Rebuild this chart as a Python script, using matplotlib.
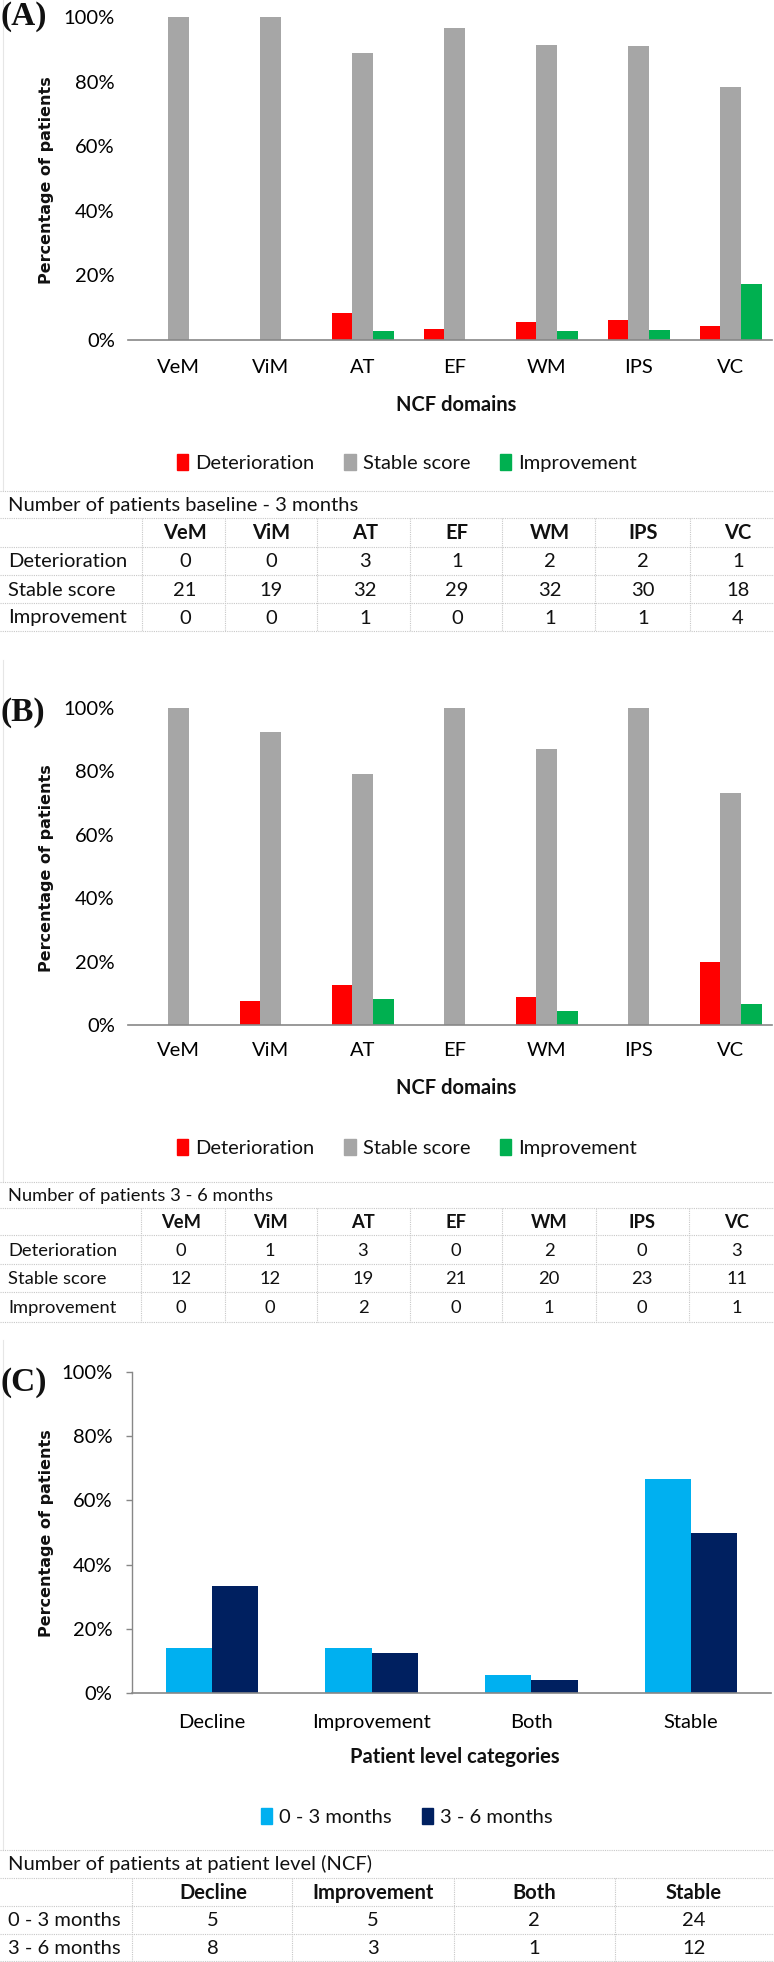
import matplotlib
matplotlib.use("Agg")
import matplotlib.pyplot as plt
from matplotlib.lines import Line2D
from matplotlib.patches import Patch
from matplotlib.ticker import PercentFormatter, FixedLocator

# ---------------- data ----------------
domains = ["VeM", "ViM", "AT", "EF", "WM", "IPS", "VC"]
series_ab = ["Deterioration", "Stable score", "Improvement"]

# Panel A: percentages baseline - 3 months
a_deterioration = [0.0, 0.0, 8.3, 3.3, 5.7, 6.1, 4.3]
a_stable = [100.0, 100.0, 88.9, 96.7, 91.4, 90.9, 78.3]
a_improvement = [0.0, 0.0, 2.8, 0.0, 2.9, 3.0, 17.4]
a_table_det = [0, 0, 3, 1, 2, 2, 1]
a_table_stable = [21, 19, 32, 29, 32, 30, 18]
a_table_impr = [0, 0, 1, 0, 1, 1, 4]

# Panel B: percentages 3 - 6 months
b_deterioration = [0.0, 7.7, 12.5, 0.0, 8.7, 0.0, 20.0]
b_stable = [100.0, 92.3, 79.2, 100.0, 87.0, 100.0, 73.3]
b_improvement = [0.0, 0.0, 8.3, 0.0, 4.3, 0.0, 6.7]
b_table_det = [0, 1, 3, 0, 2, 0, 3]
b_table_stable = [12, 12, 19, 21, 20, 23, 11]
b_table_impr = [0, 0, 2, 0, 1, 0, 1]

# Panel C: patient level
categories_c = ["Decline", "Improvement", "Both", "Stable"]
periods_c = ["0 - 3 months", "3 - 6 months"]
c_0_3 = [13.9, 13.9, 5.6, 66.7]
c_3_6 = [33.3, 12.5, 4.2, 50.0]
c_table_0_3 = [5, 5, 2, 24]
c_table_3_6 = [8, 3, 1, 12]

yticks = [0, 20, 40, 60, 80, 100]

# ---------------- style ----------------
RED, GRAY, GREEN = "#FF0000", "#A6A6A6", "#00B050"
LBLUE, DBLUE = "#00B0F0", "#002060"
AXC = "#878787"
GRIDC = "#C8C8C8"

plt.rcParams["font.family"] = ["Lato", "DejaVu Sans"]
plt.rcParams["text.color"] = "#111111"
FS = 14.5

W, H = 774, 1962
fig = plt.figure(figsize=(W / 100, H / 100), dpi=100)
fig.patch.set_facecolor("white")


def fx(x):
    return x / W


def fy(y):
    return 1 - y / H


def add_ax(left, right, top, bottom):
    return fig.add_axes([fx(left), fy(bottom), (right - left) / W, (bottom - top) / H])


def txt(x, y, s, size=FS, ha="center", va="center", **kw):
    fig.text(fx(x), fy(y), s, fontsize=size, ha=ha, va=va, **kw)


def hline(x0, x1, y, color=GRIDC, ls=(0, (1, 1)), lw=0.8):
    fig.add_artist(Line2D([fx(x0), fx(x1)], [fy(y), fy(y)], color=color, lw=lw, ls=ls))


def vline(x, y0, y1, color=GRIDC, ls=(0, (1, 1)), lw=0.8):
    fig.add_artist(Line2D([fx(x), fx(x)], [fy(y0), fy(y1)], color=color, lw=lw, ls=ls))


def style_axes(ax, show_left=False, xpad=15):
    ax.set_ylim(0, 100)
    ax.yaxis.set_major_locator(FixedLocator(yticks))
    ax.yaxis.set_major_formatter(PercentFormatter(decimals=0))
    for s in ["top", "right"]:
        ax.spines[s].set_visible(False)
    ax.spines["bottom"].set_color(AXC)
    ax.spines["bottom"].set_linewidth(1.2)
    if show_left:
        ax.spines["left"].set_color(AXC)
        ax.spines["left"].set_linewidth(1.0)
        ax.tick_params(axis="y", length=4, color=AXC, width=1.0, pad=10, labelsize=FS)
    else:
        ax.spines["left"].set_visible(False)
        ax.tick_params(axis="y", length=0, pad=9.5, labelsize=FS)
    ax.tick_params(axis="x", length=0, pad=xpad, labelsize=FS)
    ax.set_facecolor("none")


def domain_panel(top, bottom, det, stab, imp, xpad):
    ax = add_ax(128, 772, top, bottom)
    x = list(range(len(domains)))
    w = 0.225
    ax.bar([i - w for i in x], det, width=w, color=RED, clip_on=False)
    ax.bar(x, stab, width=w, color=GRAY, clip_on=False)
    ax.bar([i + w for i in x], imp, width=w, color=GREEN, clip_on=False)
    ax.set_xticks(x)
    ax.set_xticklabels(domains)
    ax.set_xlim(-0.55, 6.45)
    style_axes(ax, show_left=False, xpad=xpad)
    return ax


def legend_at(handles, labels, x, y):
    fig.legend(handles, labels, loc="center", bbox_to_anchor=(fx(x), fy(y)), ncol=len(labels),
               frameon=False, fontsize=FS, handlelength=0.55, handleheight=0.85,
               handletextpad=0.35, columnspacing=1.5, borderaxespad=0)


def table(title, title_y, lines_y, col_seps, col_centers, header, rows, size, bold_size):
    txt(8, title_y, title, size=size, ha="left")
    for y in lines_y:
        hline(0, 774, y)
    for xs in col_seps:
        vline(xs, lines_y[1], lines_y[-1])
    row_ys = [(lines_y[i] + lines_y[i + 1]) / 2 for i in range(1, len(lines_y) - 1)]
    for cx, h in zip(col_centers, header):
        txt(cx, row_ys[0] + 1, h, size=bold_size, fontweight="bold")
    for (label, vals), ry in zip(rows, row_ys[1:]):
        txt(8, ry + 1, label, size=size, ha="left")
        for cx, v in zip(col_centers, vals):
            txt(cx, ry + 1, str(v), size=size)


YL_FS = 11.5
PL_FS = 24

# ---------------- Panel A ----------------
domain_panel(17, 340, a_deterioration, a_stable, a_improvement, xpad=14)
txt(0, 17, "(A)", size=PL_FS, ha="left", family="Liberation Serif", fontweight="bold")
txt(47, 180, "Percentage of patients", size=YL_FS, rotation=90, family="DejaVu Sans", fontweight="bold")
txt(456, 405, "NCF domains", size=FS, fontweight="bold")
handles_ab = [Patch(color=RED), Patch(color=GRAY), Patch(color=GREEN)]
legend_at(handles_ab, series_ab, 407, 463)
vline(3, 0, 490, color="#E6E6E6", ls="-", lw=0.8)
table("Number of patients baseline - 3 months", 506,
      [491, 518, 547, 575, 603, 631],
      [142, 225, 317, 410, 502, 595, 690],
      [185, 271, 365, 457, 550, 643, 738],
      domains,
      [("Deterioration", a_table_det), ("Stable score", a_table_stable), ("Improvement", a_table_impr)],
      size=FS, bold_size=FS)

# ---------------- Panel B ----------------
domain_panel(708, 1025, b_deterioration, b_stable, b_improvement, xpad=12)
txt(0, 713, "(B)", size=PL_FS, ha="left", family="Liberation Serif", fontweight="bold")
txt(47, 868, "Percentage of patients", size=YL_FS, rotation=90, family="DejaVu Sans", fontweight="bold")
txt(456, 1088, "NCF domains", size=FS, fontweight="bold")
legend_at(handles_ab, series_ab, 407, 1148)
vline(3, 660, 1182, color="#E6E6E6", ls="-", lw=0.8)
table("Number of patients 3 - 6 months", 1196,
      [1182, 1208, 1235, 1264, 1292, 1322],
      [141, 225, 317, 410, 502, 596, 689],
      [181, 270, 363, 456, 549, 642, 737],
      domains,
      [("Deterioration", b_table_det), ("Stable score", b_table_stable), ("Improvement", b_table_impr)],
      size=13.2, bold_size=13.2)

# ---------------- Panel C ----------------
axc = add_ax(132, 771, 1372, 1693)
xc = list(range(len(categories_c)))
wc = 0.29
axc.bar([i - wc / 2 for i in xc], c_0_3, width=wc, color=LBLUE)
axc.bar([i + wc / 2 for i in xc], c_3_6, width=wc, color=DBLUE)
axc.set_xticks(xc)
axc.set_xticklabels(categories_c)
axc.set_xlim(-0.5, 3.5)
style_axes(axc, show_left=True, xpad=15)
txt(0, 1382, "(C)", size=PL_FS, ha="left", family="Liberation Serif", fontweight="bold")
txt(47, 1533, "Percentage of patients", size=YL_FS, rotation=90, family="DejaVu Sans", fontweight="bold")
txt(455, 1757, "Patient level categories", size=FS, fontweight="bold")
legend_at([Patch(color=LBLUE), Patch(color=DBLUE)], periods_c, 407, 1817)
vline(3, 1340, 1850, color="#E6E6E6", ls="-", lw=0.8)
table("Number of patients at patient level (NCF)", 1864,
      [1850, 1878, 1906, 1934, 1961],
      [132, 292, 454, 615],
      [213, 373, 534, 694],
      categories_c,
      [("0 - 3 months", c_table_0_3), ("3 - 6 months", c_table_3_6)],
      size=FS, bold_size=FS)

fig.savefig("out.png", dpi=100, facecolor="white")
